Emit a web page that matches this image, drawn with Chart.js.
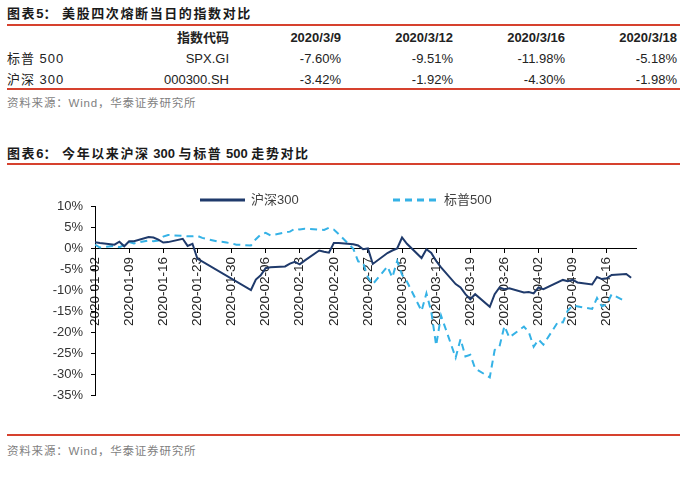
<!DOCTYPE html>
<html><head><meta charset="utf-8">
<script src="https://cdn.jsdelivr.net/npm/chart.js@4.4.1/dist/chart.umd.min.js"></script>
<style>
body{margin:0;width:688px;height:483px;background:#fff;position:relative;overflow:hidden;font-family:"Liberation Sans","Noto Sans CJK SC",sans-serif;}
.t{position:absolute;white-space:nowrap;line-height:18px;}
.title{font-weight:bold;font-size:13px;color:#1a1a1a;letter-spacing:1.6px;font-family:"Liberation Sans","Noto Sans CJK SC",sans-serif;}
.title .n{letter-spacing:0;}
.red{position:absolute;left:7px;width:673px;height:2px;background:#d6412e;}
.src{font-size:11.5px;color:#7f7f7f;letter-spacing:0.8px;font-family:"Liberation Sans","Noto Sans CJK SC",sans-serif;}
.cell{position:absolute;white-space:nowrap;font-size:13px;line-height:18px;color:#222;text-align:right;}
.hd{font-weight:bold;}
#chartBox{position:absolute;left:0;top:170px;width:688px;height:260px;}
</style>
</head><body>
<div class="t title" style="left:7px;top:5px;">图表<span class="n">5</span>：<span style="margin-left:4px">美股四次熔断当日的指数对比</span></div>
<div class="red" style="top:24px"></div>
<div id="table"></div>
<div class="red" style="top:88px"></div>
<div class="t src" style="left:7px;top:94px;">资料来源：Wind，华泰证券研究所</div>

<div class="t title" style="left:7px;top:145px;">图表<span class="n">6</span>：<span style="margin-left:4px">今年以来沪深<span class="n"> 300 </span>与标普<span class="n"> 500 </span>走势对比</span></div>
<div class="red" style="top:163px"></div>
<canvas id="chartBox" width="688" height="260"></canvas>
<div class="red" style="top:434px"></div>
<div class="t src" style="left:7px;top:442px;">资料来源：Wind，华泰证券研究所</div>

<script>
// ---------- Table data (figure 5) ----------
const tableHeader = ['指数代码', '2020/3/9', '2020/3/12', '2020/3/16', '2020/3/18'];
const tableNames = ['标普 500', '沪深 300'];
const tableCodes = ['SPX.GI', '000300.SH'];
const spxBreakers = ['-7.60%', '-9.51%', '-11.98%', '-5.18%'];
const hs300Breakers = ['-3.42%', '-1.92%', '-4.30%', '-1.98%'];

// ---------- Chart data (figure 6), cumulative % change since start of year ----------
const seriesNames = ['沪深300', '标普500'];
const hs300Dates = ['2020-01-02','2020-01-03','2020-01-06','2020-01-07','2020-01-08','2020-01-09','2020-01-10',
 '2020-01-13','2020-01-14','2020-01-15','2020-01-16','2020-01-17','2020-01-20','2020-01-21','2020-01-22','2020-01-23',
 '2020-02-03','2020-02-04','2020-02-05','2020-02-06','2020-02-07','2020-02-10','2020-02-11','2020-02-12','2020-02-13','2020-02-14',
 '2020-02-17','2020-02-18','2020-02-19','2020-02-20','2020-02-21','2020-02-24','2020-02-25','2020-02-26','2020-02-27','2020-02-28',
 '2020-03-02','2020-03-03','2020-03-04','2020-03-05','2020-03-06','2020-03-09','2020-03-10','2020-03-11','2020-03-12','2020-03-13',
 '2020-03-16','2020-03-17','2020-03-18','2020-03-19','2020-03-20','2020-03-23','2020-03-24','2020-03-25','2020-03-26','2020-03-27',
 '2020-03-30','2020-03-31','2020-04-01','2020-04-02','2020-04-03','2020-04-07','2020-04-08','2020-04-09','2020-04-10',
 '2020-04-13','2020-04-14','2020-04-15','2020-04-16','2020-04-17','2020-04-20','2020-04-21'];
const hs300Values = [1.4,1.2,0.8,1.5,0.4,1.6,1.6,
 2.6,2.5,2.0,1.3,1.4,2.2,0.5,1.0,-2.5,
 -10.0,-7.5,-6.5,-4.8,-4.6,-4.4,-3.7,-3.3,-3.9,-3.0,
 -0.6,-0.9,-1.1,1.2,1.2,0.9,0.6,-0.3,-0.1,-3.8,
 -1.2,-0.6,-0.1,2.5,1.0,-2.4,-0.3,-1.2,-3.1,-4.6,
 -8.6,-9.4,-11.0,-12.2,-11.0,-14.0,-11.0,-9.4,-9.8,-9.6,
 -10.6,-10.5,-10.8,-9.4,-9.8,-7.6,-7.9,-7.6,-8.2,
 -8.7,-6.9,-7.4,-7.2,-6.4,-6.2,-7.1];

const spxDates = ['2020-01-02','2020-01-03','2020-01-06','2020-01-07','2020-01-08','2020-01-09','2020-01-10',
 '2020-01-13','2020-01-14','2020-01-15','2020-01-16','2020-01-17','2020-01-21','2020-01-22','2020-01-23','2020-01-24',
 '2020-01-27','2020-01-28','2020-01-29','2020-01-30','2020-01-31','2020-02-03','2020-02-04','2020-02-05','2020-02-06','2020-02-07',
 '2020-02-10','2020-02-11','2020-02-12','2020-02-13','2020-02-14','2020-02-18','2020-02-19','2020-02-20','2020-02-21',
 '2020-02-24','2020-02-25','2020-02-26','2020-02-27','2020-02-28','2020-03-02','2020-03-03','2020-03-04','2020-03-05','2020-03-06',
 '2020-03-09','2020-03-10','2020-03-11','2020-03-12','2020-03-13','2020-03-16','2020-03-17','2020-03-18','2020-03-19','2020-03-20',
 '2020-03-23','2020-03-24','2020-03-25','2020-03-26','2020-03-27','2020-03-30','2020-03-31','2020-04-01','2020-04-02','2020-04-03',
 '2020-04-06','2020-04-07','2020-04-08','2020-04-09','2020-04-13','2020-04-14','2020-04-15','2020-04-16','2020-04-17','2020-04-20'];
const spxValues = [0.8,0.1,0.5,0.2,0.7,1.4,1.1,
 1.8,1.6,1.8,2.7,3.1,2.8,2.8,2.9,2.4,
 1.6,1.5,1.3,1.1,0.8,0.6,2.1,3.2,3.6,3.0,
 3.7,3.9,4.6,4.4,4.6,4.3,4.8,4.4,3.3,
 -0.2,-3.2,-3.5,-7.0,-8.6,-4.4,-7.0,-3.1,-6.4,-8.0,
 -15.0,-10.8,-15.2,-23.2,-16.1,-26.1,-21.7,-25.8,-25.4,-28.7,
 -30.8,-24.3,-23.4,-18.6,-21.3,-18.7,-20.0,-23.5,-21.8,-23.0,
 -17.6,-17.7,-14.9,-13.7,-14.5,-11.9,-13.9,-13.4,-11.0,-12.8];

const xTickLabels = ['2020-01-02','2020-01-09','2020-01-16','2020-01-23','2020-01-30','2020-02-06','2020-02-13','2020-02-20',
 '2020-02-27','2020-03-05','2020-03-12','2020-03-19','2020-03-26','2020-04-02','2020-04-09','2020-04-16'];

// ---------- Build table ----------
(function(){
  const t = document.getElementById('table');
  const rights = [229, 341, 453, 565, 677];
  function cell(txt, right, cy, cls){
    const d = document.createElement('div');
    d.className = 'cell' + (cls ? ' ' + cls : '');
    d.textContent = txt;
    d.style.right = (688 - right) + 'px';
    d.style.top = (cy - 9) + 'px';
    t.appendChild(d);
  }
  function leftCell(txt, cy){
    const d = document.createElement('div');
    d.className = 'cell';
    d.style.textAlign = 'left';
    d.style.left = '7px';
    d.style.letterSpacing = '1px';
    d.textContent = txt;
    d.style.top = (cy - 9) + 'px';
    t.appendChild(d);
  }
  tableHeader.forEach((h,i)=>cell(h, rights[i], 38, 'hd'));
  const rowsY = [59, 80];
  const rowVals = [spxBreakers, hs300Breakers];
  tableNames.forEach((n,r)=>{
    leftCell(n, rowsY[r]);
    cell(tableCodes[r], rights[0], rowsY[r]);
    rowVals[r].forEach((v,i)=>cell(v, rights[i+1], rowsY[r]));
  });
})();

// ---------- Chart ----------
const DAY0 = Date.UTC(2020,0,2);
const dayOf = s => { const p = s.split('-').map(Number); return (Date.UTC(p[0],p[1]-1,p[2]) - DAY0) / 86400000; };
const toPoints = (dates, vals) => dates.map((d,i)=>({x: dayOf(d), y: vals[i]}));

const legendPlugin = {
  id: 'manualLegend',
  afterDraw(chart, args, opts){
    const ctx = chart.ctx;
    ctx.save();
    chart.data.datasets.forEach((ds, i) => {
      const x0 = opts.xs[i], y = opts.y;
      ctx.beginPath();
      ctx.setLineDash(ds.borderDash || []);
      ctx.strokeStyle = ds.borderColor;
      ctx.lineWidth = ds.borderWidth + 1;
      ctx.moveTo(x0, y); ctx.lineTo(x0 + opts.lineLen, y);
      ctx.stroke();
      ctx.setLineDash([]);
      ctx.fillStyle = '#404040';
      ctx.font = '13px "Liberation Sans", "Noto Sans CJK SC", sans-serif';
      ctx.textBaseline = 'middle';
      ctx.fillText(ds.label, x0 + opts.lineLen + 6, y);
    });
    ctx.restore();
  }
};

const tickFont = {family: '"Liberation Sans", Arial, sans-serif', size: 13};
new Chart(document.getElementById('chartBox'), {
  type: 'line',
  data: {
    datasets: [
      {label: seriesNames[0], data: toPoints(hs300Dates, hs300Values), borderColor: '#1f3a6b', borderWidth: 2, pointRadius: 0, tension: 0, fill: false},
      {label: seriesNames[1], data: toPoints(spxDates, spxValues), borderColor: '#35b2e6', borderWidth: 2, borderDash: [7,5], pointRadius: 0, tension: 0, fill: false}
    ]
  },
  options: {
    responsive: false, animation: false, devicePixelRatio: 1,
    layout: {padding: {top: 36, bottom: 35, right: 52, left: 0}},
    plugins: {legend: {display: false}, tooltip: {enabled: false},
      manualLegend: {xs: [200, 393], y: 30, lineLen: 45}},
    scales: {
      x: {
        type: 'linear', min: 0, max: 111, position: {y: 0},
        afterBuildTicks: s => { s.ticks = xTickLabels.map(l => ({value: dayOf(l)})); },
        afterFit: s => { s.height = 0; },
        grid: {display: true, drawOnChartArea: false, drawTicks: true, tickLength: 4, color: '#000'},
        border: {display: true, color: '#000', width: 1},
        ticks: {autoSkip: false, minRotation: 90, maxRotation: 90, padding: 5, color: '#222', font: {family: tickFont.family, size: 13.5},
          callback: (v, i) => xTickLabels[i]}
      },
      y: {
        min: -35, max: 10,
        afterFit: s => { s.width = 95; },
        grid: {display: true, drawOnChartArea: false, drawTicks: true, tickLength: 4, color: '#000'},
        border: {display: true, color: '#000', width: 1},
        ticks: {stepSize: 5, padding: 8, color: '#333', font: tickFont, callback: v => v + '%'}
      }
    }
  },
  plugins: [legendPlugin]
});
</script>
</body></html>
